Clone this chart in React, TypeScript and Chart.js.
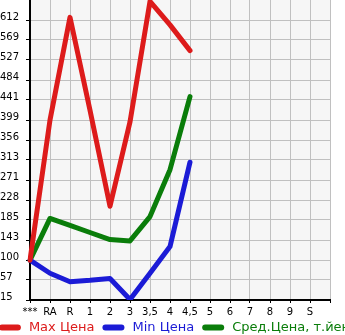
import React, { useEffect, useRef } from "react";
import { Chart, registerables } from "chart.js";

Chart.register(...registerables);

const categories = ["***", "RA", "R", "1", "2", "3", "3,5", "4", "4,5", "5", "6", "7", "8", "9", "S", ""];
const maxPrice = [100, 399, 618, 420, 215, 395, 652, 602, 547, null, null, null, null, null, null, null];
const minPrice = [100, 72, 54, 57, 61, 16, 72, 129, 309, null, null, null, null, null, null, null];
const avgPrice = [100, 189, 174, 159, 144, 141, 193, 293, 449, null, null, null, null, null, null, null];

const yTickValues = [15, 57.67, 100.33, 143, 185.67, 228.33, 271, 313.67, 356.33, 399, 441.67, 484.33, 527, 569.67, 612.33];
const yTickLabels = ["15", "57", "100", "143", "185", "228", "271", "313", "356", "399", "441", "484", "527", "569", "612"];
const yMin = 15;
const yMax = 655;

const seriesNames = ["Max Цена", "Min Цена", "Сред.Цена, т.йен"];
const seriesColors = ["#dd1b1b", "#1b1bd6", "#0a7d0a"];

const FONT = "'DejaVu Sans', sans-serif";

const plotBackground = {
  id: "plotBackground",
  beforeDraw(chart: any) {
    const { ctx, chartArea } = chart;
    ctx.save();
    ctx.fillStyle = "#f6f6f6";
    ctx.fillRect(chartArea.left, chartArea.top, chartArea.right - chartArea.left, chartArea.bottom - chartArea.top);
    ctx.restore();
  },
};

const bottomLegend = {
  id: "bottomLegend",
  afterDraw(chart: any) {
    const { ctx } = chart;
    ctx.save();
    ctx.font = `13px ${FONT}`;
    ctx.textBaseline = "middle";
    const swatch = 22;
    const gapText = 8;
    const gapItem = 8;
    const items = chart.data.datasets.map((d: any) => ({
      label: d.label as string,
      color: d.borderColor as string,
      w: ctx.measureText(d.label).width,
    }));
    let total = 0;
    items.forEach((it: any, i: number) => {
      total += swatch + gapText + it.w + (i < items.length - 1 ? gapItem : 0);
    });
    let x = (chart.width - total) / 2 + 2;
    const y = 327.5;
    items.forEach((it: any) => {
      ctx.strokeStyle = it.color;
      ctx.lineWidth = 6;
      ctx.lineCap = "round";
      ctx.beginPath();
      ctx.moveTo(x + 3, y);
      ctx.lineTo(x + swatch - 3, y);
      ctx.stroke();
      ctx.fillStyle = it.color;
      ctx.textAlign = "left";
      ctx.fillText(it.label, x + swatch + gapText, y);
      x += swatch + gapText + it.w + gapItem;
    });
    ctx.restore();
  },
};

export default function App() {
  const ref = useRef<HTMLCanvasElement | null>(null);

  useEffect(() => {
    if (!ref.current) return;
    const mk = (data: (number | null)[], i: number) => ({
      label: seriesNames[i],
      data,
      borderColor: seriesColors[i],
      backgroundColor: seriesColors[i],
      borderWidth: 5,
      pointRadius: 0,
      pointHoverRadius: 0,
      tension: 0,
      borderCapStyle: "round" as const,
      borderJoinStyle: "round" as const,
      fill: false,
      spanGaps: false,
    });
    const chart = new Chart(ref.current, {
      type: "line",
      data: {
        labels: categories,
        datasets: [mk(maxPrice, 0), mk(minPrice, 1), mk(avgPrice, 2)],
      },
      options: {
        responsive: false,
        animation: false,
        devicePixelRatio: 1,
        layout: { padding: { top: 0, right: 15, bottom: 15, left: 0 } },
        plugins: {
          legend: { display: false },
          tooltip: { enabled: false },
        },
        scales: {
          x: {
            type: "category",
            offset: false,
            grid: { color: "#c0c0c0", lineWidth: 1, tickColor: "#000", tickLength: 3 },
            border: { display: true, color: "#000", width: 2 },
            ticks: {
              color: "#000",
              font: { family: FONT, size: 10 },
              padding: 3,
              maxRotation: 0,
              autoSkip: false,
            },
            afterFit: (s: any) => {
              s.height = 20;
              s.paddingLeft = 0;
              s.paddingRight = 0;
            },
          },
          y: {
            min: yMin,
            max: yMax,
            grid: { color: "#c0c0c0", lineWidth: 1, tickColor: "#000", tickLength: 4 },
            border: { display: true, color: "#000", width: 2 },
            afterBuildTicks: (s: any) => {
              s.ticks = yTickValues.map((v) => ({ value: v }));
            },
            ticks: {
              color: "#000",
              font: { family: FONT, size: 10 },
              crossAlign: "far",
              padding: 2,
              labelOffset: -3,
              autoSkip: false,
              callback: (_v: any, i: number) => yTickLabels[i],
            },
            afterFit: (s: any) => {
              s.width = 30;
              s.paddingTop = 0;
              s.paddingBottom = 0;
            },
          },
        },
      },
      plugins: [plotBackground, bottomLegend],
    });
    return () => chart.destroy();
  }, []);

  return (
    <div style={{ position: "absolute", left: 0, top: 0, width: 345, height: 335 }}>
      <canvas ref={ref} width={345} height={335} style={{ display: "block" }} />
    </div>
  );
}
